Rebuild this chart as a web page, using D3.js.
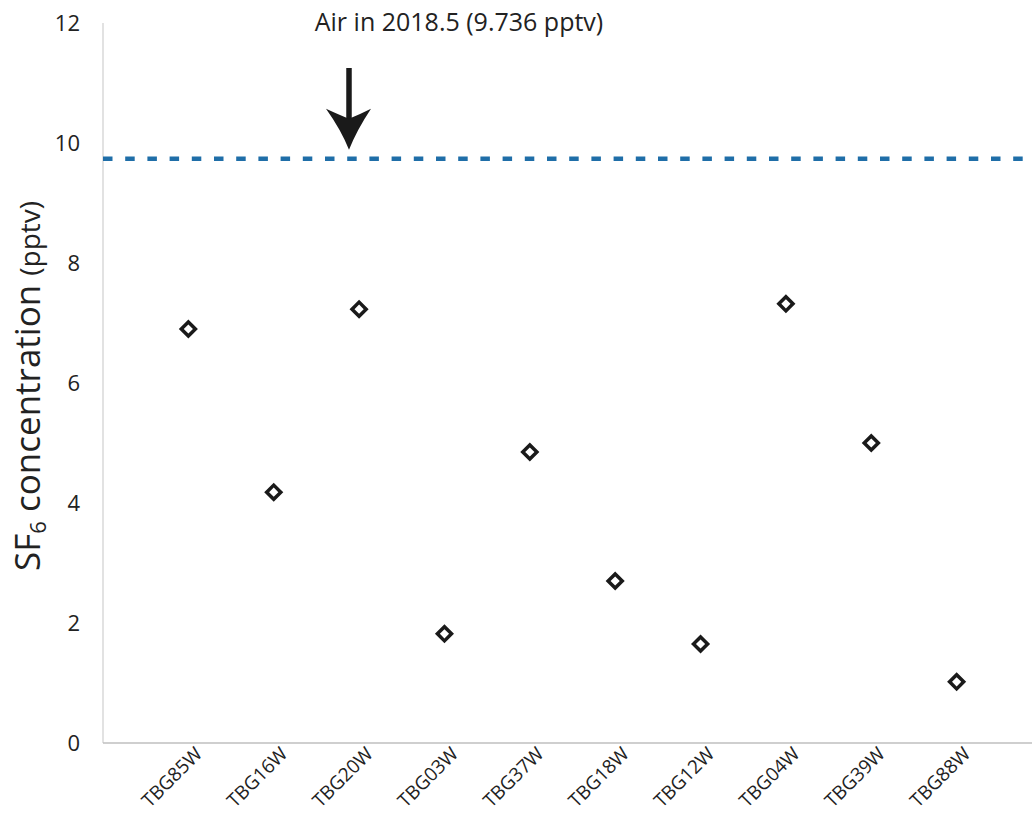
<!DOCTYPE html>
<html>
<head>
<meta charset="utf-8">
<script src="https://cdn.jsdelivr.net/npm/d3@7"></script>
<style>
  body { margin: 0; background: #fff; }
  svg { display: block; font-family: 'Open Sans', sans-serif; }
</style>
</head>
<body>
<svg id="chart" width="1032" height="816"></svg>
<script>
// sample wells and SF6 values (pptv)
const wells = ['TBG85W', 'TBG16W', 'TBG20W', 'TBG03W', 'TBG37W', 'TBG18W', 'TBG12W', 'TBG04W', 'TBG39W', 'TBG88W'];
const sf6 = [6.90, 4.18, 7.23, 1.82, 4.85, 2.70, 1.65, 7.32, 5.00, 1.02];
const yTicks = [0, 2, 4, 6, 8, 10, 12];
const airValue = 9.736;
const airLabel = 'Air in 2018.5 (9.736 pptv)';

const width = 1032, height = 816;
const margin = { top: 23, right: 0, bottom: 73, left: 103 };

const svg = d3.select('#chart');

// scales
const x = d3.scalePoint()
    .domain(wells)
    .range([margin.left, 1042])
    .padding(1);

const y = d3.scaleLinear()
    .domain([0, 12])
    .range([height - margin.bottom, margin.top]);

// y axis line + labels
svg.append('line')
    .attr('x1', margin.left).attr('x2', margin.left)
    .attr('y1', y(12)).attr('y2', y(0))
    .attr('stroke', '#d9d9d9')
    .attr('stroke-width', 1.5);

svg.append('g')
    .selectAll('text')
    .data(yTicks)
    .join('text')
    .attr('x', margin.left - 23)
    .attr('y', (d) => y(d))
    .attr('dy', '0.36em')
    .attr('text-anchor', 'end')
    .attr('font-size', 22)
    .attr('fill', '#222')
    .text((d) => d);

// x axis line
svg.append('line')
    .attr('x1', margin.left).attr('x2', width)
    .attr('y1', y(0)).attr('y2', y(0))
    .attr('stroke', '#bfbfbf')
    .attr('stroke-width', 1.5);

// rotated category labels
svg.append('g')
    .selectAll('text')
    .data(wells)
    .join('text')
    .attr('transform', (d) => `translate(${x(d) + 15},${y(0) + 12}) rotate(-45)`)
    .attr('text-anchor', 'end')
    .attr('font-size', 19)
    .attr('fill', '#222')
    .text((d) => d);

// y axis title with subscript
const title = svg.append('text')
    .attr('transform', `translate(40,386) rotate(-90)`)
    .attr('text-anchor', 'middle')
    .attr('font-size', 35)
    .attr('fill', '#222');
title.append('tspan').text('SF');
title.append('tspan').attr('font-size', 22).attr('dy', 6).text('6');
title.append('tspan').attr('dy', -6).text(' concentration ');
title.append('tspan').attr('font-size', 28).text('(pptv)');

// air reference line
svg.append('line')
    .attr('x1', margin.left).attr('x2', width)
    .attr('y1', y(airValue)).attr('y2', y(airValue))
    .attr('stroke', '#1f6ea8')
    .attr('stroke-width', 4.5)
    .attr('stroke-dasharray', '9.5 12.7');

// annotation text + arrow
svg.append('text')
    .attr('x', 459)
    .attr('y', 31)
    .attr('text-anchor', 'middle')
    .attr('font-size', 25)
    .attr('fill', '#222')
    .text(airLabel);

const ax = 349;
const tip = y(airValue) - 9;
svg.append('line')
    .attr('x1', ax).attr('x2', ax)
    .attr('y1', 68).attr('y2', tip - 25)
    .attr('stroke', '#1a1a1a')
    .attr('stroke-width', 5.5);

svg.append('path')
    .attr('d', `M${ax},${tip} Q${ax - 8},${tip - 20} ${ax - 23},${tip - 41} Q${ax - 10},${tip - 35} ${ax},${tip - 31}` +
        ` Q${ax + 10},${tip - 35} ${ax + 22},${tip - 41} Q${ax + 8},${tip - 20} ${ax},${tip} Z`)
    .attr('fill', '#1a1a1a');

// diamond markers
svg.append('g')
    .selectAll('path')
    .data(wells)
    .join('path')
    .attr('transform', (d, i) => `translate(${x(d)},${y(sf6[i])}) rotate(45)`)
    .attr('d', d3.symbol(d3.symbolSquare, 100))
    .attr('fill', '#fff')
    .attr('stroke', '#1a1a1a')
    .attr('stroke-width', 3.5);
</script>
</body>
</html>
